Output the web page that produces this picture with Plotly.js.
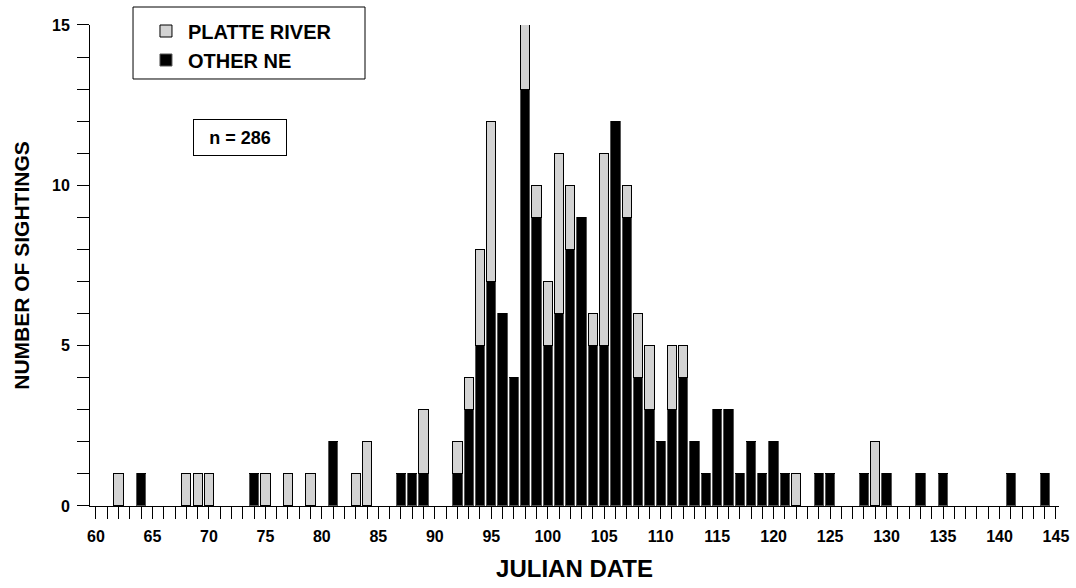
<!DOCTYPE html>
<html>
<head>
<meta charset="utf-8">
<script src="https://cdn.plot.ly/plotly-3.0.1.min.js"></script>
<style>
  html, body { margin: 0; padding: 0; background: #fff; }
  #chart { width: 1076px; height: 588px; }
</style>
</head>
<body>
<div id="chart"></div>
<script>
// Julian dates that have at least one sighting
const days = [62, 64, 68, 69, 70, 74, 75, 77, 79, 81, 83, 84, 87, 88, 89, 92, 93, 94, 95, 96,
              97, 98, 99, 100, 101, 102, 103, 104, 105, 106, 107, 108, 109, 110, 111, 112, 113, 114, 115, 116,
              117, 118, 119, 120, 121, 122, 124, 125, 128, 129, 130, 133, 135, 141, 144];
// OTHER NE (black, bottom of stack)
const otherNE = [0, 1, 0, 0, 0, 1, 0, 0, 0, 2, 0, 0, 1, 1, 1, 1, 3, 5, 7, 6,
                 4, 13, 9, 5, 6, 8, 9, 5, 5, 12, 9, 4, 3, 2, 3, 4, 2, 1, 3, 3,
                 1, 2, 1, 2, 1, 0, 1, 1, 1, 0, 1, 1, 1, 1, 1];
// PLATTE RIVER (gray, top of stack)
const platteRiver = [1, 0, 1, 1, 1, 0, 1, 1, 1, 0, 1, 2, 0, 0, 2, 1, 1, 3, 5, 0,
                     0, 2, 1, 2, 5, 2, 0, 1, 6, 0, 1, 2, 2, 0, 2, 1, 0, 0, 0, 0,
                     0, 0, 0, 0, 0, 1, 0, 0, 0, 2, 0, 0, 0, 0, 0];
const xTickVals = [60, 65, 70, 75, 80, 85, 90, 95, 100, 105, 110, 115, 120, 125, 130, 135, 140, 145];
const yTickVals = [0, 5, 10, 15];
const seriesNames = ['OTHER NE', 'PLATTE RIVER'];
const noteText = 'n = 286';

const FONT = '"Liberation Sans", Arial, Helvetica, sans-serif';

const traces = [
  {
    type: 'bar', name: seriesNames[0], x: days, y: otherNE, width: 0.82, cliponaxis: false,
    marker: { color: '#000000', line: { color: '#555555', width: 1 } },
    hoverinfo: 'x+y+name'
  },
  {
    type: 'bar', name: seriesNames[1], x: days, y: platteRiver, width: 0.82, cliponaxis: false,
    marker: { color: '#d3d3d3', line: { color: '#000000', width: 1 } },
    hoverinfo: 'x+y+name'
  }
];

// plot area spans y = 5 .. 506 px; the y axis occupies 25 .. 506 px
const layout = {
  width: 1076, height: 588,
  margin: { l: 90, r: 17, t: 5, b: 82 },
  paper_bgcolor: '#ffffff', plot_bgcolor: 'rgba(0,0,0,0)',
  barmode: 'stack',
  font: { family: FONT, color: '#000', size: 16, weight: 'bold' },
  showlegend: true,
  legend: {
    x: 0.0557, y: 0.987, xanchor: 'left', yanchor: 'top',
    bgcolor: 'rgba(0,0,0,0)', borderwidth: 0,
    traceorder: 'reversed',
    font: { family: FONT, size: 20, color: '#000', weight: 'bold' },
    itemwidth: 34
  },
  shapes: [
    {
      type: 'rect', xref: 'paper', yref: 'paper', layer: 'below',
      x0: 0.0444, x1: 0.2838, y0: 0.8523, y1: 0.996,
      line: { color: '#000', width: 1 }, fillcolor: '#ffffff'
    }
  ],
  xaxis: {
    range: [59.47, 145.27],
    tickmode: 'array', tickvals: xTickVals, ticktext: xTickVals.map(String),
    ticks: 'outside', ticklen: 12, tickwidth: 1, tickcolor: '#000',
    ticklabelstandoff: 4,
    minor: { dtick: 1, tick0: 60, ticks: 'outside', ticklen: 12, tickwidth: 1, tickcolor: '#000', showgrid: false },
    showline: true, linecolor: '#000', linewidth: 1,
    showgrid: false, zeroline: false,
    tickfont: { family: FONT, size: 16, color: '#000', weight: 'bold' },
    title: { text: 'JULIAN DATE', font: { family: FONT, size: 24, color: '#000', weight: 'bold' }, standoff: 15 }
  },
  yaxis: {
    range: [0, 15],
    domain: [0, 0.96008],
    tickmode: 'array', tickvals: yTickVals, ticktext: yTickVals.map(String),
    ticks: 'outside', ticklen: 12, tickwidth: 1, tickcolor: '#000',
    ticklabelstandoff: 4,
    minor: { dtick: 1, tick0: 0, ticks: 'outside', ticklen: 12, tickwidth: 1, tickcolor: '#000', showgrid: false },
    showline: true, linecolor: '#000', linewidth: 1,
    showgrid: false, zeroline: false,
    tickfont: { family: FONT, size: 16, color: '#000', weight: 'bold' },
    title: { text: 'NUMBER OF SIGHTINGS', font: { family: FONT, size: 21, color: '#000', weight: 'bold' }, standoff: 16 }
  },
  annotations: [
    {
      xref: 'paper', yref: 'paper', x: 0.1543, y: 0.7365, xanchor: 'center', yanchor: 'middle',
      text: noteText, showarrow: false,
      font: { family: FONT, size: 18, color: '#000', weight: 'bold' },
      bordercolor: '#000', borderwidth: 1, borderpad: 0, bgcolor: '#fff',
      width: 92, height: 35
    }
  ]
};

Plotly.newPlot('chart', traces, layout, { displayModeBar: false, staticPlot: true });
</script>
</body>
</html>
